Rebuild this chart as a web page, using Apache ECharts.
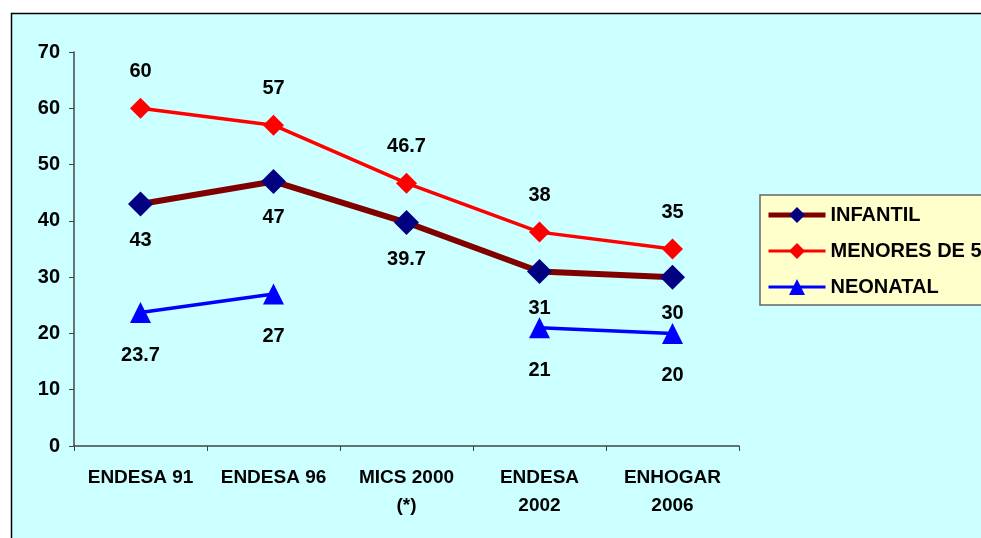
<!DOCTYPE html>
<html><head><meta charset="utf-8">
<script src="https://cdn.jsdelivr.net/npm/echarts@6/dist/echarts.min.js"></script>
<style>html,body{margin:0;padding:0;background:#fff;}#c{width:981px;height:538px;}</style>
</head><body><div id="c"></div>
<script>
const categories = ['ENDESA 91','ENDESA 96','MICS 2000\n(*)','ENDESA\n2002','ENHOGAR\n2006'];
const infantil = [43, 47, 39.7, 31, 30];
const menores5 = [60, 57, 46.7, 38, 35];
const neonatal = [23.7, 27, null, 21, 20];
const yTicks = [0, 10, 20, 30, 40, 50, 60, 70];

const chart = echarts.init(document.getElementById('c'), null, {renderer:'canvas'});
const font = 'Liberation Sans, Arial, sans-serif';
const lbl = (pos, dist) => ({show:true, position:pos, distance:dist, color:'#000', fontFamily:font, fontWeight:'bold', fontSize:20});
chart.setOption({
  animation:false,
  graphic:[{type:'rect', z:-10, shape:{x:11.5,y:13.5,width:1000,height:600}, style:{fill:'#CCFFFF', stroke:'#000', lineWidth:1.5}}],
  grid:{left:74, top:52, right:242, bottom:92},
  legend:{
    left:760, top:195, orient:'vertical', backgroundColor:'#FFFFCC', borderColor:'#666', borderWidth:1.5,
    padding:[10,100,8,6], itemGap:16, itemWidth:57, itemHeight:20, itemStyle:{},
    textStyle:{fontFamily:font, fontWeight:'bold', fontSize:20, color:'#000'},
    data:[
      {name:'INFANTIL', lineStyle:{width:5}},
      {name:'MENORES DE 5', lineStyle:{width:3}},
      {name:'NEONATAL', lineStyle:{width:3}}
    ]
  },
  xAxis:{type:'category', data:categories, boundaryGap:true,
    axisLine:{lineStyle:{color:'#444', width:1.5}},
    axisTick:{show:true, length:5, lineStyle:{color:'#444'}},
    axisLabel:{color:'#000', fontFamily:font, fontWeight:'bold', fontSize:19, margin:18, lineHeight:28, interval:0}},
  yAxis:{type:'value', min:0, max:70, interval:10, splitLine:{show:false},
    axisLine:{show:true, lineStyle:{color:'#444', width:1.5}},
    axisTick:{show:true, length:5, lineStyle:{color:'#444'}},
    axisLabel:{color:'#000', fontFamily:font, fontWeight:'bold', fontSize:20, margin:14,
      formatter:v=> yTicks.includes(v) ? String(v) : ''}},
  series:[
    {name:'INFANTIL', type:'line', data:infantil, z:3,
      lineStyle:{color:'#800000', width:6}, itemStyle:{color:'#000080'},
      symbol:'diamond', symbolSize:25, showAllSymbol:true,
      label:lbl('bottom', 14)},
    {name:'MENORES DE 5', type:'line', data:menores5, z:2,
      lineStyle:{color:'#FF0000', width:3.5}, itemStyle:{color:'#FF0000'},
      symbol:'diamond', symbolSize:21,
      label:lbl('top', 16)},
    {name:'NEONATAL', type:'line', data:neonatal, z:2, connectNulls:false,
      lineStyle:{color:'#0000FF', width:3.5}, itemStyle:{color:'#0000FF'},
      symbol:'triangle', symbolSize:21,
      label:lbl('bottom', 22)}
  ]
});
</script></body></html>
